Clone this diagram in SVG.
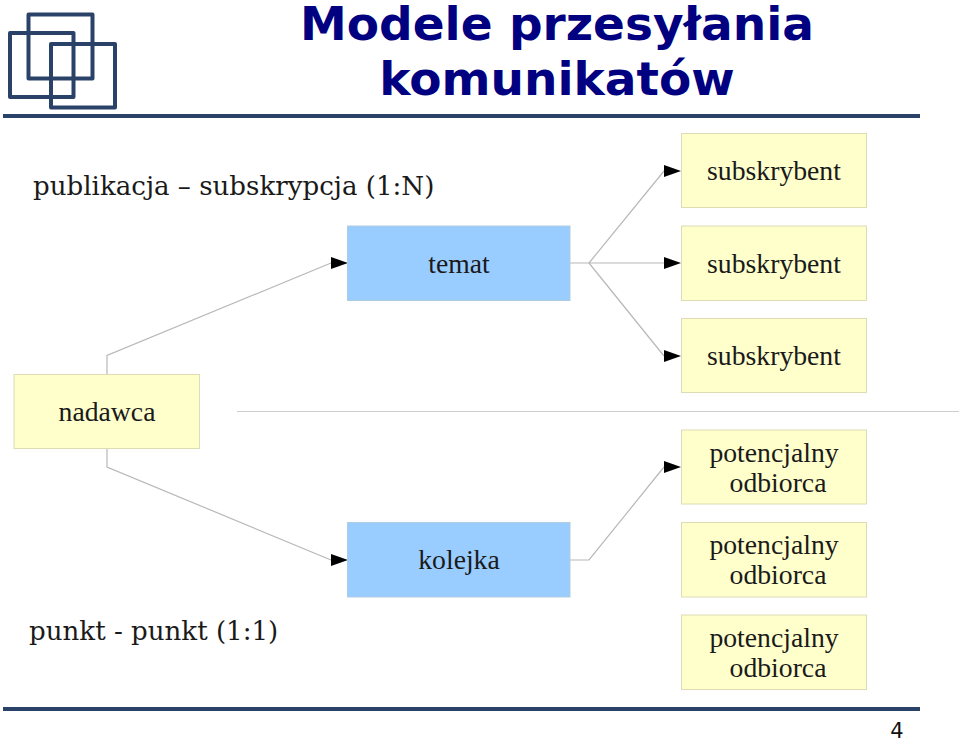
<svg xmlns="http://www.w3.org/2000/svg" width="959" height="741" viewBox="0 0 959 741">
<style>
.title{font:bold 47px "DejaVu Sans",sans-serif;fill:#000080;text-anchor:middle}
.lab{font:27.7px "Liberation Serif",serif;fill:#1a1a1a;text-anchor:middle}
.cap{font:26.1px "DejaVu Serif",serif;fill:#1a1a1a}
.y{fill:#ffffcc;stroke:#dddcb4;stroke-width:1}
.b{fill:#99ccff;stroke:#b0cde0;stroke-width:1}
.c{fill:none;stroke:#b8b8b8;stroke-width:1.2}
.logo{fill:none;stroke:#2a4268;stroke-width:4;stroke-linejoin:round}
.rule{stroke:#2a4268;stroke-width:4}
</style>
<g id="logo"><rect class="logo" x="28.500" y="14.500" width="64" height="64"/><rect class="logo" x="10" y="33" width="63.500" height="64"/><rect class="logo" x="51" y="44" width="64" height="63.500"/></g>
<g id="header"><text class="title" x="557" y="40">Modele przesyłania</text><text class="title" x="557" y="95">komunikatów</text><line class="rule" x1="3" y1="116" x2="920" y2="116"/></g>
<g id="connectors">
<path class="c" d="M107 374V355.500L331 263"/><path class="c" d="M107 449V467L331 560"/>
<path class="c" d="M570 263H664"/><path class="c" d="M589 263L664 171"/><path class="c" d="M589 263L664 356"/>
<path class="c" d="M570 560H589L664 467"/>
<path class="c" d="M237 411.500H959" stroke-opacity="0.7"/>
<g fill="#000"><path d="M331 257L348 263L331 269Z"/><path d="M331 554L348 560L331 566Z"/><path d="M664 165L681 171L664 177Z"/><path d="M664 257L681 263L664 269Z"/><path d="M664 350L681 356L664 362Z"/><path d="M664 461L681 467L664 473Z"/></g>
</g>
<g id="caption1"><text class="cap" x="33" y="195">publikacja – subskrypcja (1:N)</text></g>
<g id="caption2"><text class="cap" x="29" y="640">punkt - punkt (1:1)</text></g>
<g id="temat"><rect class="b" x="347.500" y="226" width="222.500" height="74.500"/><text class="lab" x="459" y="273">temat</text></g>
<g id="kolejka"><rect class="b" x="347.500" y="522.500" width="222.500" height="74.500"/><text class="lab" x="459" y="569">kolejka</text></g>
<g id="nadawca"><rect class="y" x="14" y="374.500" width="185.500" height="74"/><text class="lab" x="107" y="421">nadawca</text></g>
<g id="sub1"><rect class="y" x="681.500" y="133.500" width="185" height="74"/><text class="lab" x="774" y="180">subskrybent</text></g>
<g id="sub2"><rect class="y" x="681.500" y="226" width="185" height="74.500"/><text class="lab" x="774" y="273">subskrybent</text></g>
<g id="sub3"><rect class="y" x="681.500" y="318.500" width="185" height="74"/><text class="lab" x="774" y="365">subskrybent</text></g>
<g id="odb1"><rect class="y" x="681.500" y="430" width="185" height="74"/><text class="lab" x="774" y="462">potencjalny</text><text class="lab" x="778" y="492">odbiorca</text></g>
<g id="odb2"><rect class="y" x="681.500" y="522.500" width="185" height="74.500"/><text class="lab" x="774" y="554">potencjalny</text><text class="lab" x="778" y="584">odbiorca</text></g>
<g id="odb3"><rect class="y" x="681.500" y="615" width="185" height="74.500"/><text class="lab" x="774" y="647">potencjalny</text><text class="lab" x="778" y="677">odbiorca</text></g>
<g id="footer"><line class="rule" x1="3" y1="709" x2="920" y2="709"/><text x="897" y="738" style="font:21px 'DejaVu Sans',sans-serif;fill:#111;text-anchor:middle">4</text></g>
</svg>
